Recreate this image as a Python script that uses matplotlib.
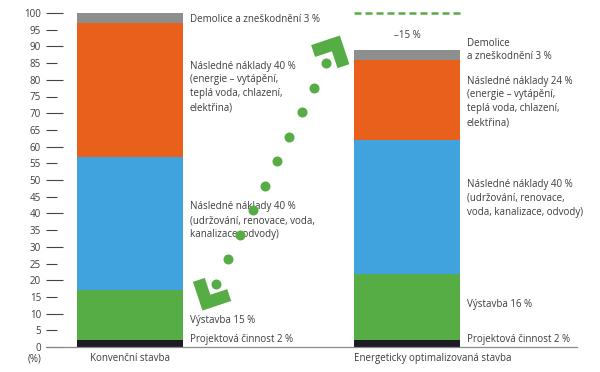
import matplotlib
matplotlib.use("Agg")
import matplotlib.pyplot as plt
from matplotlib.ticker import MultipleLocator, FormatStrFormatter
import numpy as np

plt.rcParams['font.family'] = ['Open Sans', 'DejaVu Sans']

# data
buildings = ["Konvenční stavba", "Energeticky optimalizovaná stavba"]
segments = ["Projektová činnost", "Výstavba", "Následné náklady (údržba)",
            "Následné náklady (energie)", "Demolice"]
conventional = [2, 15, 40, 40, 3]
optimized = [2, 20, 40, 24, 3]
colors = ["#1c1c22", "#56ac45", "#41a3dd", "#e8601c", "#8e8e8e"]

labels_conv = ["Projektová činnost 2 %",
               "Výstavba 15 %",
               "Následné náklady 40 %\n(udržování, renovace, voda,\nkanalizace, odvody)",
               "Následné náklady 40 %\n(energie – vytápění,\nteplá voda, chlazení,\nelektřina)",
               "Demolice a zneškodnění 3 %"]
labels_opt = ["Projektová činnost 2 %",
              "Výstavba 16 %",
              "Následné náklady 40 %\n(udržování, renovace,\nvoda, kanalizace, odvody)",
              "Následné náklady 24 %\n(energie – vytápění,\nteplá voda, chlazení,\nelektřina)",
              "Demolice\na zneškodnění 3 %"]
label_y_conv = [2.1, 7.9, 37.8, 77.9, 98.2]
label_y_opt = [2.1, 12.6, 44.5, 73.4, 88.9]
reduction = "–15 %"

text_col = "#3c3c3c"
green = "#56ac45"

fig = plt.figure(figsize=(6, 3.72), dpi=100)
ax = fig.add_axes([46 / 600, 25 / 372, 531 / 600, 334 / 372])

w = 0.383
pos = [0, 1]
for i, vals in enumerate([conventional, optimized]):
    bottom = 0
    for v, c in zip(vals, colors):
        ax.bar(pos[i], v, w, bottom=bottom, color=c, linewidth=0)
        bottom += v

for i, (labs, ys) in enumerate([(labels_conv, label_y_conv), (labels_opt, label_y_opt)]):
    for lab, y in zip(labs, ys):
        ax.annotate(lab, xy=(pos[i] + w / 2, y), xytext=(5, 0),
                    textcoords="offset points", ha="left", va="center",
                    fontsize=7, color=text_col, linespacing=1.35,
                    annotation_clip=False)

# dashed reference line at the conventional total
ax.plot([pos[1] - w / 2, pos[1] + w / 2], [sum(conventional)] * 2,
        color=green, lw=1.8, dashes=(2.8, 1.6), clip_on=False)
ax.text(pos[1], 93.4, reduction, ha="center", va="center", fontsize=7,
        color=text_col)

ax.set_xlim(-0.303, 1.614)
ax.set_ylim(0, 100)

# category labels
ax.text(pos[0], -1.8, buildings[0], ha="center", va="top", fontsize=7,
        color=text_col)
ax.text(pos[1] - w / 2, -1.8, buildings[1], ha="left", va="top", fontsize=7,
        color=text_col)
ax.text(-5 / 531, -2.0, "(%)", transform=ax.get_yaxis_transform(), ha="right",
        va="top", fontsize=7, color=text_col)

ax.set_xticks([])
ax.yaxis.set_major_locator(MultipleLocator(10))
ax.yaxis.set_minor_locator(MultipleLocator(5))
ax.yaxis.set_minor_formatter(FormatStrFormatter("%d"))
ax.tick_params(axis="y", which="both", direction="in", pad=3.6,
               labelsize=7, labelcolor=text_col, color="#444444", width=0.8)
ax.tick_params(axis="y", which="major", length=12.2)
ax.tick_params(axis="y", which="minor", length=7.9)
for s in ["left", "top", "right"]:
    ax.spines[s].set_visible(False)
ax.spines["bottom"].set_color("#8a8a8a")
ax.spines["bottom"].set_linewidth(0.9)

# dotted double-headed arrow from the conventional to the optimized bar
arrow_start = (0.310, 18.9)
arrow_end = (0.708, 85.0)
n_dots = 10
xs = np.linspace(arrow_start[0], arrow_end[0], n_dots)
ys = np.linspace(arrow_start[1], arrow_end[1], n_dots)
ax.scatter(xs, ys, s=52, color=green, linewidths=0, clip_on=False, zorder=3)

p0 = ax.transData.transform(arrow_start)
p1 = ax.transData.transform(arrow_end)
d = (p1 - p0) / np.hypot(*(p1 - p0))


def chevron(tip_base, direction, gap, arm):
    apex = tip_base + direction * gap
    back = -direction
    rot = lambda v, a: np.array([v[0] * np.cos(a) - v[1] * np.sin(a),
                                 v[0] * np.sin(a) + v[1] * np.cos(a)])
    a1 = apex + rot(back, np.pi / 4) * arm
    a2 = apex + rot(back, -np.pi / 4) * arm
    pts = ax.transData.inverted().transform(np.array([a1, apex, a2]))
    ax.plot(pts[:, 0], pts[:, 1], color=green, lw=9, solid_joinstyle="miter",
            solid_capstyle="butt", clip_on=False, zorder=3)


chevron(p1, d, 22, 24)
chevron(p0, -d, 21, 24)

fig.savefig("out.png", dpi=100)
